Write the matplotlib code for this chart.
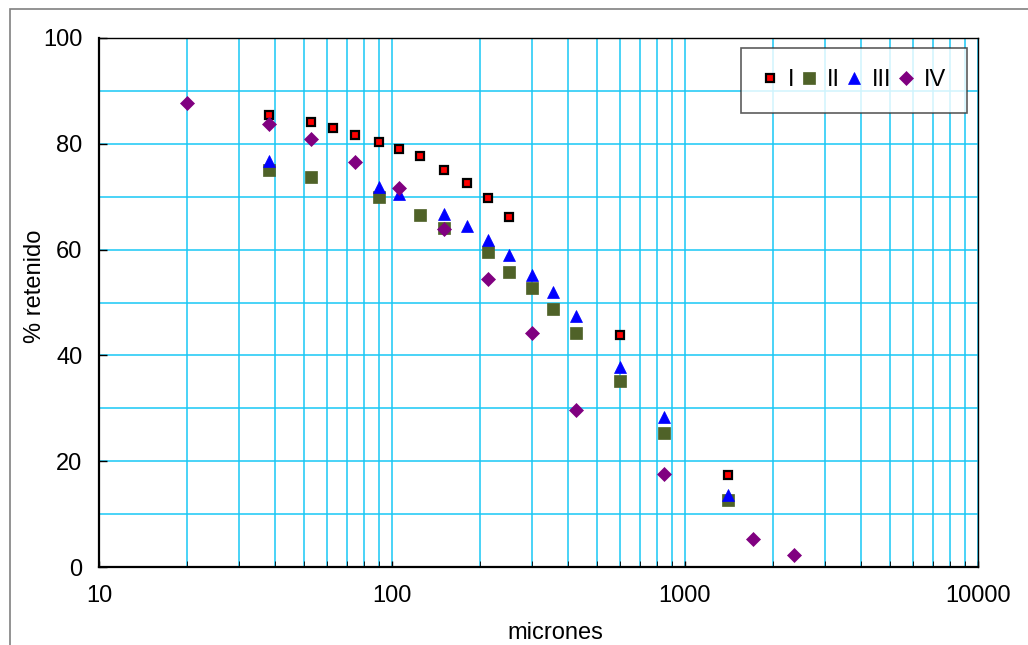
import matplotlib.pyplot as plt
from matplotlib.patches import Rectangle
from matplotlib.ticker import FixedLocator, FuncFormatter, LogLocator, MultipleLocator

plt.rcParams["font.family"] = ["Liberation Sans", "DejaVu Sans"]

# data (sieve size in microns, % retained)
sizes_I = [38, 53, 63, 75, 90, 106, 125, 150, 180, 212, 250, 600, 1400]
ret_I = [85.4, 84.2, 83.0, 81.6, 80.4, 79.0, 77.6, 75.0, 72.6, 69.8, 66.2, 43.9, 17.3]

sizes_II = [38, 53, 90, 125, 150, 212, 250, 300, 355, 425, 600, 850, 1400]
ret_II = [75.1, 73.8, 70.0, 66.6, 64.1, 59.5, 55.8, 52.8, 48.7, 44.3, 35.2, 25.3, 12.7]

sizes_III = [38, 90, 106, 150, 180, 212, 250, 300, 355, 425, 600, 850, 1400]
ret_III = [76.8, 71.9, 70.5, 66.8, 64.4, 61.8, 59.0, 55.2, 51.9, 47.4, 37.9, 28.3, 13.7]

sizes_IV = [20, 38, 53, 75, 106, 150, 212, 300, 425, 850, 1700, 2360]
ret_IV = [87.8, 83.8, 80.9, 76.6, 71.6, 63.9, 54.4, 44.2, 29.6, 17.6, 5.2, 2.2]

x_ticks = [10, 100, 1000, 10000]
GRID = "#19C8F5"
FS = 17

fig = plt.figure(figsize=(10.28, 6.45), dpi=100)
ax = fig.add_axes([99 / 1028, 78 / 645, 879 / 1028, 529 / 645])

# outer chart frame
fig.patches.append(Rectangle((10 / 1028, -0.1), 1.2, 636 / 645 + 0.1,
                             transform=fig.transFigure, fill=False,
                             edgecolor="#808080", lw=1.2))

ax.set_xscale("log")
ax.set_xlim(10, 10000)
ax.set_ylim(0, 100)

ax.plot(sizes_I, ret_I, ls="none", marker="s", ms=6, mfc="#FF0000",
        mec="black", mew=1.6, label="I", zorder=4)
ax.plot(sizes_II, ret_II, ls="none", marker="s", ms=8.8, mfc="#4F6228",
        mec="#4F6228", mew=0.5, label="II", zorder=3)
ax.plot(sizes_III, ret_III, ls="none", marker="^", ms=9, mfc="#0000FF",
        mec="#0000FF", mew=0.5, label="III", zorder=3)
ax.plot(sizes_IV, ret_IV, ls="none", marker="D", ms=7, mfc="#800080",
        mec="#800080", mew=0.5, label="IV", zorder=5)

ax.xaxis.set_major_locator(FixedLocator(x_ticks))
ax.xaxis.set_major_formatter(FuncFormatter(lambda v, p: f"{v:.0f}"))
ax.xaxis.set_minor_locator(LogLocator(base=10, subs=range(2, 10)))
ax.xaxis.set_minor_formatter(FuncFormatter(lambda v, p: ""))
ax.yaxis.set_major_locator(MultipleLocator(20))
ax.yaxis.set_minor_locator(MultipleLocator(10))

ax.grid(True, which="both", color=GRID, lw=1.1)
ax.set_axisbelow(True)

ax.tick_params(axis="both", which="major", direction="in", length=6,
               width=1, labelsize=FS, color="black")
ax.tick_params(axis="x", which="both", direction="in", length=4, pad=13)
ax.tick_params(axis="y", which="minor", length=0)
ax.tick_params(axis="y", which="major", pad=12)

for s in ax.spines.values():
    s.set_color("black")
    s.set_linewidth(1.0)
ax.spines["left"].set_linewidth(1.6)
ax.spines["bottom"].set_linewidth(1.6)

ax.set_ylabel("% retenido", fontsize=FS)
ax.yaxis.set_label_coords(-0.060, 0.53)
fig.text(555 / 1028, 1 - 633 / 645, "micrones", fontsize=FS,
         ha="center", va="center")

leg = ax.legend(loc="upper left", bbox_to_anchor=(0.730, 0.981, 0.2575, 0.0),
                mode="expand", ncol=4, fontsize=FS, frameon=True, fancybox=False,
                handlelength=0.7, handletextpad=0.4, columnspacing=1.0,
                borderpad=0.9, borderaxespad=0.0, numpoints=1)
leg.get_frame().set_edgecolor("#333333")
leg.get_frame().set_linewidth(1.2)

fig.savefig("out.png", dpi=100)
